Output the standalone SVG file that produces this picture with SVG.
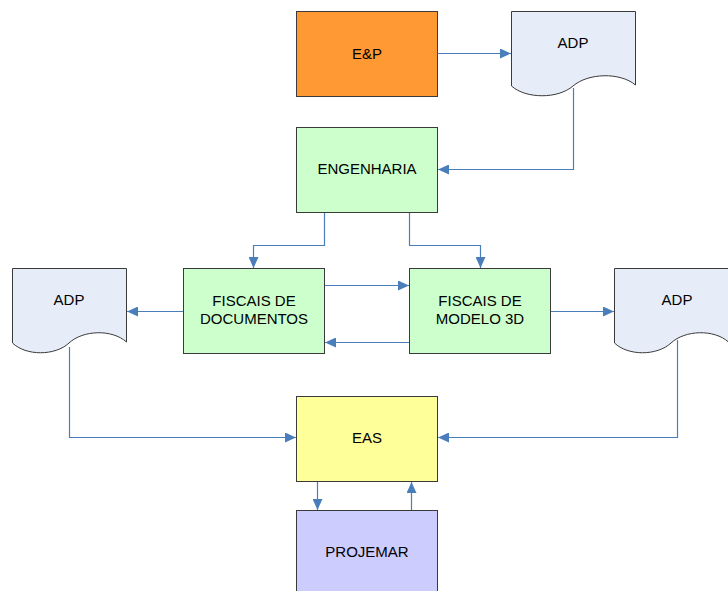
<svg xmlns="http://www.w3.org/2000/svg" width="728" height="591" viewBox="0 0 728 591">
  <style>
    .box { stroke: #3a3a3a; stroke-width: 1; }
    .doc { fill: #E6ECF8; stroke: #3a3a3a; stroke-width: 1; }
    .lbl { font-family: "Liberation Sans", Arial, sans-serif; font-size: 15px; fill: #000; text-anchor: middle; }
    .conn { fill: none; stroke: #4A7EBB; stroke-width: 1.2; marker-end: url(#arrow); }
  </style>
  <defs>
    <marker id="arrow" markerUnits="userSpaceOnUse" markerWidth="12" markerHeight="10" refX="11" refY="5" orient="auto">
      <path d="M0,0 L11,5 L0,10 Z" fill="#4A7EBB"/>
    </marker>
  </defs>

  <rect width="728" height="591" fill="#ffffff"/>

  <g id="ep">
    <rect class="box" x="296.5" y="11.5" width="141" height="85" fill="#FF9933"/>
    <text class="lbl" x="367" y="59">E&amp;P</text>
  </g>

  <g id="adp-top">
    <path class="doc" d="M511.5,11.5 H635.5 V85 C620,72 588,73 573,86 C558,99 526,99 511.5,86 Z"/>
    <text class="lbl" x="573" y="48">ADP</text>
  </g>

  <g id="engenharia">
    <rect class="box" x="296.5" y="127.5" width="141" height="85" fill="#CCFFCC"/>
    <text class="lbl" x="367" y="174">ENGENHARIA</text>
  </g>

  <g id="fiscais-documentos">
    <rect class="box" x="183.5" y="268.5" width="141" height="85" fill="#CCFFCC"/>
    <text class="lbl" x="254" y="306">FISCAIS DE</text>
    <text class="lbl" x="254" y="324">DOCUMENTOS</text>
  </g>

  <g id="fiscais-modelo">
    <rect class="box" x="409.5" y="268.5" width="141" height="85" fill="#CCFFCC"/>
    <text class="lbl" x="480" y="306">FISCAIS DE</text>
    <text class="lbl" x="480" y="324">MODELO 3D</text>
  </g>

  <g id="adp-left">
    <path class="doc" d="M12.5,268.5 H126.5 V342 C112,329 83,330 69,343 C55,356 26,356 12.5,343 Z"/>
    <text class="lbl" x="69" y="305">ADP</text>
  </g>

  <g id="adp-right">
    <path class="doc" d="M614.5,268.5 H728.5 V342 C714,329 685,330 671,343 C657,356 628,356 614.5,343 Z"/>
    <text class="lbl" x="677" y="305">ADP</text>
  </g>

  <g id="eas">
    <rect class="box" x="296.5" y="396.5" width="141" height="85" fill="#FFFF99"/>
    <text class="lbl" x="367" y="443">EAS</text>
  </g>

  <g id="projemar">
    <rect class="box" x="296.5" y="510.5" width="141" height="95" fill="#CCCCFF"/>
    <text class="lbl" x="367" y="557">PROJEMAR</text>
  </g>

  <g id="connectors">
    <path class="conn" d="M437.5,53.5 H511"/>
    <path class="conn" d="M573.5,88 V169.5 H438"/>
    <path class="conn" d="M324.5,213 V245.5 H253.5 V268"/>
    <path class="conn" d="M409.5,213 V245.5 H480.5 V268"/>
    <path class="conn" d="M325,285.5 H409"/>
    <path class="conn" d="M409,342.5 H325"/>
    <path class="conn" d="M183,311.5 H127"/>
    <path class="conn" d="M551,311.5 H614"/>
    <path class="conn" d="M69.5,347 V437.5 H296"/>
    <path class="conn" d="M677.5,340 V437.5 H438"/>
    <path class="conn" d="M317.5,482 V510"/>
    <path class="conn" d="M411.5,510 V482"/>
  </g>
</svg>
